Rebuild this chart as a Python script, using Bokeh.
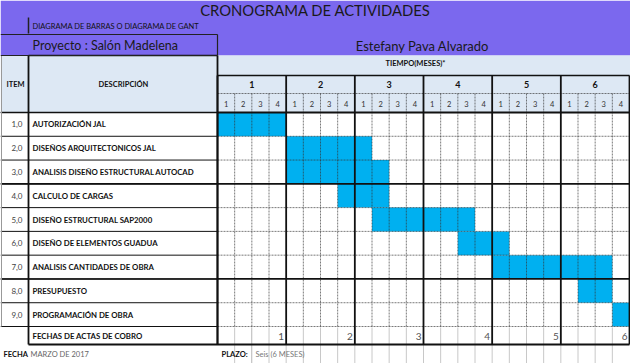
from bokeh.plotting import figure
from bokeh.models import Range1d
from bokeh.core.properties import value
from bokeh.embed import file_html
from bokeh.resources import INLINE

# ---------------- data ----------------
title = "CRONOGRAMA DE ACTIVIDADES"
subtitle = "DIAGRAMA DE BARRAS O DIAGRAMA DE GANT"
project = "Proyecto : Salón Madelena"
author = "Estefany Pava Alvarado"
time_label = "TIEMPO(MESES)*"
items = ["1,0", "2,0", "3,0", "4,0", "5,0", "6,0", "7,0", "8,0", "9,0"]
tasks = ["AUTORIZACIÓN JAL", "DISEÑOS ARQUITECTONICOS JAL",
         "ANALISIS DISEÑO ESTRUCTURAL AUTOCAD", "CALCULO DE CARGAS",
         "DISEÑO ESTRUCTURAL SAP2000", "DISEÑO DE ELEMENTOS GUADUA",
         "ANALISIS CANTIDADES DE OBRA", "PRESUPUESTO", "PROGRAMACIÓN DE OBRA"]
start_week = [0, 4, 4, 7, 9, 14, 16, 21, 23]
end_week = [4, 9, 10, 10, 15, 17, 23, 23, 24]
months = ["1", "2", "3", "4", "5", "6"]
weeks = ["1", "2", "3", "4"]
cobro_label = "FECHAS DE ACTAS DE COBRO"
cobro = ["1", "2", "3", "4", "5", "6"]
fecha_label, fecha_val = "FECHA", "MARZO DE 2017"
plazo_label, plazo_val = "PLAZO:", "Seis (6 MESES)"

# ---------------- layout (pixels -> data units) ----------------
W, H = 630, 363
GX0, GX1 = 217.0, 629.0
NW = len(months) * len(weeks)
WK = (GX1 - GX0) / NW
RY0, RY1 = 112.0, 326.0
NR = len(tasks)
RH = (RY1 - RY0) / NR

def X(px):
    return (px - GX0) / WK

def Y(py):
    return (py - RY0) / RH

PURPLE = "#7b68ee"
LIGHT = "#dde8f4"
BAR = "#00b0f0"
FONT = value("Lato")

p = figure(width=W, height=H, output_backend="svg", toolbar_location=None,
           x_range=Range1d(X(0), X(W)), y_range=Range1d(Y(H), Y(0)),
           min_border=0, background_fill_color="white")
p.axis.visible = False
p.grid.visible = False
p.outline_line_color = None

# backgrounds
p.quad(left=[X(0)], right=[X(W)], top=[Y(0)], bottom=[Y(55)], fill_color=PURPLE, line_color=None)
p.quad(left=[X(0)], right=[X(W)], top=[Y(55)], bottom=[Y(RY0)], fill_color=LIGHT, line_color=None)

# gantt bars (from data)
rows = list(range(NR))
p.quad(left=start_week, right=end_week, top=rows, bottom=[r + 1 for r in rows],
       fill_color=BAR, line_color=None)

def seg(x0, y0, x1, y1, color="#111", width=1.0, dash="solid", alpha=1.0):
    p.segment(x0=x0, y0=y0, x1=x1, y1=y1, line_color=color, line_width=width,
              line_dash=dash, line_alpha=alpha)

# faint excel gridlines in footer
fx = [X(251)] + [float(w) for w in range(1, NW)]
seg(fx, [Y(327)] * len(fx), fx, [Y(H)] * len(fx), color="#c8c8c8", width=1)

# dashed week lines (header week row + task rows)
DC, DA = "#333", 0.65
wx = [float(w) for w in range(NW) if w % 4 != 0]
seg(wx, [Y(93)] * len(wx), wx, [Y(RY1)] * len(wx), color=DC, width=1, dash="2 1", alpha=DA)
# dashed row lines in gantt
dr = [r for r in range(1, NR + 1) if r not in (3, 7)]
seg([0.0] * len(dr), dr, [float(NW)] * len(dr), dr, color=DC, width=1, dash="2 1", alpha=DA)
seg([0.0], [Y(93)], [float(NW)], [Y(93)], color=DC, width=1, dash="2 1", alpha=DA)

# solid row lines in left table
lr = list(range(0, NR + 1))
seg([X(0)] * len(lr), lr, [X(GX0)] * len(lr), lr, color="#111", width=1)
seg([X(0)] * 3, [3, 7, 0], [X(GX0)] * 3, [3, 7, 0], color="#111", width=1.6)
# thick horizontals in gantt
seg([0.0] * 3, [3, 7, 0], [float(NW)] * 3, [3, 7, 0], color="#111", width=1.8)
seg([X(28)], [Y(344)], [float(NW)], [Y(344)], color="#111", width=2)
seg([0.0], [Y(75)], [float(NW)], [Y(75)], color="#111", width=1.6)

# month verticals
mx = [float(m * 4) for m in range(len(months) + 1)]
seg(mx, [Y(75)] * len(mx), mx, [Y(344)] * len(mx), color="#111", width=1.8)
seg([X(GX0)], [Y(55)], [X(GX0)], [Y(344)], color="#111", width=1.8)
seg([X(28)], [Y(55)], [X(28)], [Y(344)], color="#111", width=1.8)
seg([X(28)], [Y(17)], [X(28)], [Y(33)], color="#222", width=1.5)
seg([X(1)], [Y(55)], [X(1)], [Y(RY1)], color="#999", width=1)
seg([X(28)], [Y(55)], [X(GX0)], [Y(55)], color="#111", width=1.6)
# project box
seg([X(0), X(0), X(GX0)], [Y(34), Y(55), Y(34)], [X(GX0), X(GX0), X(GX0)], [Y(34), Y(55), Y(55)],
    color="#222", width=1.2)

# ---------------- texts ----------------
def txt(x, y, t, size, color="#111", bold=False, align="left", baseline="middle"):
    p.text(x=x, y=y, text=t, text_font=FONT, text_font_size=value(f"{size}px"),
           text_color=color, text_font_style="bold" if bold else "normal",
           text_align=align, text_baseline=baseline)

txt([X(315)], [Y(9)], [title], 14.8, color="#1a1a1a", align="center")
txt([X(32)], [Y(25.5)], [subtitle], 7.5, color="#111")
txt([X(32)], [Y(45)], [project], 12.5, color="#1a1a1a")
txt([X(422)], [Y(45.5)], [author], 13, color="#1a1a1a", align="center")
txt([X(415)], [Y(63)], [time_label], 7.5, bold=True, align="center")
txt([X(15)], [Y(84)], ["ITEM"], 7.5, bold=True, align="center")
txt([X(123)], [Y(84)], ["DESCRIPCIÓN"], 7.5, bold=True, align="center")

# months / weeks headers
txt([m * 4 + 2.0 for m in range(len(months))], [Y(83.5)] * len(months), months, 9, bold=True, align="center")
wk_x = [m * 4 + w + 0.5 for m in range(len(months)) for w in range(len(weeks))]
wk_t = [weeks[w] for m in range(len(months)) for w in range(len(weeks))]
txt(wk_x, [Y(103)] * len(wk_x), wk_t, 7.5, color="#333", align="center")

# rows
txt([X(22)] * NR, [r + 0.5 for r in rows], items, 8, color="#444", align="right")
txt([X(32)] * NR, [r + 0.5 for r in rows], tasks, 7.8, bold=True)
txt([X(32)], [Y(335.5)], [cobro_label], 7.8, bold=True)
txt([m * 4 + 4 - 0.12 for m in range(len(cobro))], [Y(335.5)] * len(cobro), cobro, 10,
    color="#555", align="right")

# footer
txt([X(3)], [Y(353.5)], [fecha_label], 7.5, bold=True)
txt([X(30)], [Y(353.5)], [fecha_val], 7.5, color="#666")
txt([X(221)], [Y(353.5)], [plazo_label], 7.5, bold=True)
txt([X(255)], [Y(353.5)], [plazo_val], 7.5, color="#777")

open("out.html", "w").write(file_html(p, INLINE))
